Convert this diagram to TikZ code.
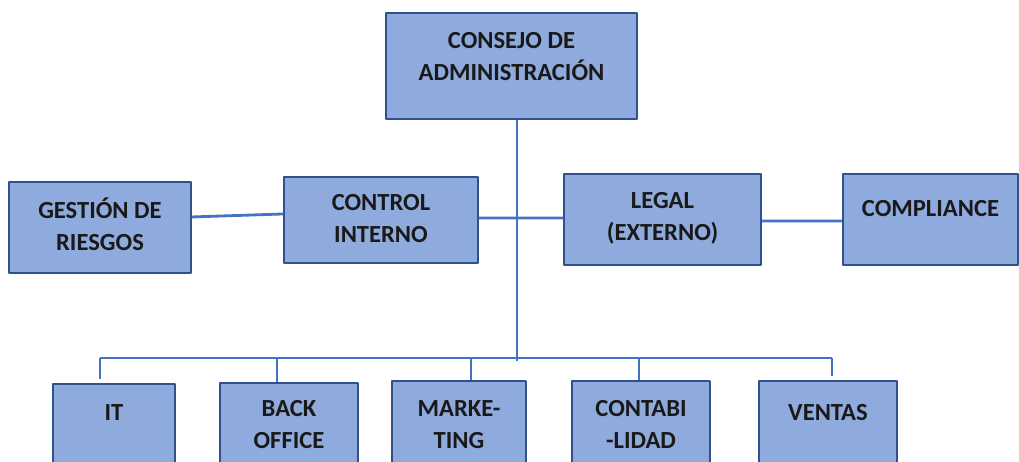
\documentclass[tikz,border=0pt]{standalone}
\usepackage{fontspec}
\setmainfont{Carlito}
\definecolor{boxfill}{HTML}{8FAADC}
\definecolor{boxline}{HTML}{2F528F}
\definecolor{wire}{HTML}{4472C4}
\tikzset{
  unit/.style={draw=boxline,fill=boxfill,line width=1.1pt,inner sep=0pt,align=center,anchor=north,
    font=\bfseries\fontsize{14}{18.2}\selectfont,text=black!90},
  link/.style={draw=wire,line width=1.6pt},
}
\begin{document}
\begin{tikzpicture}[x=0.02cm,y=-0.02cm,line join=round]
\clip (0,0) rectangle (1019,461);
% top level
\node[unit,minimum width=5.02cm,text height=1.36cm,text depth=0.76cm] (consejo) at (511.5,12) {CONSEJO DE\\ADMINISTRACIÓN};
% middle row
\node[unit,minimum width=3.64cm,text height=1.38cm,text depth=0.44cm] (gestion) at (100,181) {GESTIÓN DE\\RIESGOS};
\node[unit,minimum width=3.88cm,text height=1.32cm,text depth=0.40cm] (control) at (381,176) {CONTROL\\INTERNO};
\node[unit,minimum width=3.94cm,text height=1.34cm,text depth=0.48cm] (legal) at (662.5,173) {LEGAL\\(EXTERNO)};
\node[unit,minimum width=3.50cm,text height=0.86cm,text depth=0.96cm] (compliance) at (930.5,173) {COMPLIANCE};
% bottom row
\node[unit,minimum width=2.44cm,text height=0.74cm,text depth=1.2cm] (it) at (114,383) {IT};
\node[unit,minimum width=2.76cm,text height=1.32cm,text depth=0.64cm] (back) at (289,382) {BACK\\OFFICE};
\node[unit,minimum width=2.68cm,text height=1.36cm,text depth=0.68cm] (mkt) at (459,380) {MARKE-\\TING};
\node[unit,minimum width=2.76cm,text height=1.36cm,text depth=0.68cm] (conta) at (641,380) {CONTABI\\-LIDAD};
\node[unit,minimum width=2.76cm,text height=0.80cm,text depth=1.2cm] (ventas) at (828,380) {VENTAS};

\coordinate (hub) at (517,361);
\coordinate (busL) at (100,358);
\coordinate (busR) at (832,358);

\draw[link] (consejo.south -| hub) -- (hub);
\draw[link] ([yshift=0.21cm]gestion.east) -- ([yshift=0.12cm]control.west);
\draw[link] ([yshift=0.04cm]control.east) -- ([yshift=0.03cm]legal.west);
\draw[link] ([yshift=-0.03cm]legal.east) -- ([yshift=-0.03cm]compliance.west);
\draw[link] (busL) -- (busR);
\draw[link,shorten >=0.08cm] (busL) -- (busL |- it.north);
\draw[link] ([xshift=-0.24cm]back.north |- busL) -- ([xshift=-0.24cm]back.north);
\draw[link] ([xshift=0.24cm]mkt.north |- busL) -- ([xshift=0.24cm]mkt.north);
\draw[link] ([xshift=-0.04cm]conta.north |- busL) -- ([xshift=-0.04cm]conta.north);
\draw[link,shorten >=0.08cm] (busR) -- (busR |- ventas.north);
\end{tikzpicture}
\end{document}
